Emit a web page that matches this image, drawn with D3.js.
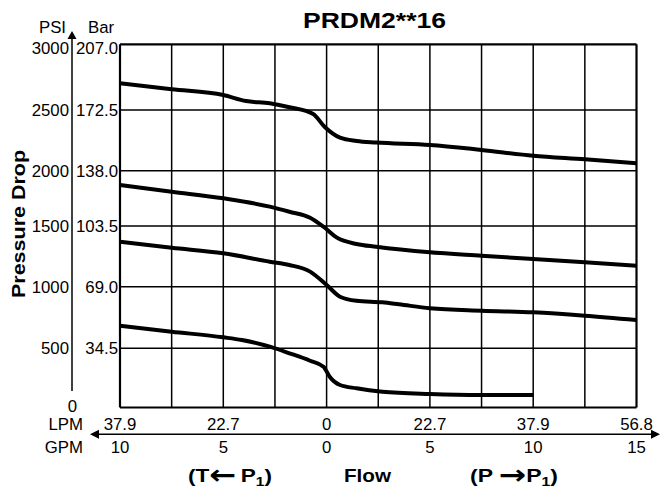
<!DOCTYPE html>
<html>
<head>
<meta charset="utf-8">
<script src="https://cdn.jsdelivr.net/npm/d3@7"></script>
<style>
  body { margin: 0; background: #fff; }
  text { font-family: 'Liberation Sans', Arial, Helvetica, sans-serif; fill: #000; }
  .arrow { font-family: 'DejaVu Sans', sans-serif; }
</style>
</head>
<body>
<div id="chart"></div>
<script>
// flow in GPM (negative = T <- P1 side), pressure drop in PSI
var flowTicks = [-10, -5, 0, 5, 10, 15]
var lpmLabels = ['37.9', '22.7', '0', '22.7', '37.9', '56.8']
var gpmLabels = ['10', '5', '0', '5', '10', '15']
var gridFlow = [-10, -7.5, -5, -2.5, 0, 2.5, 5, 7.5, 10, 12.5, 15]

var psiTicks = [0, 500, 1000, 1500, 2000, 2500, 3000]
var psiLabels = ['', '500', '1000', '1500', '2000', '2500', '3000']
var barLabels = ['', '34.5', '69.0', '103.5', '138.0', '172.5', '207.0']

var curve1 = [[-10, 2703], [-7.5, 2658], [-5, 2614], [-3.9, 2568], [-2.75, 2551], [-1.8, 2521], [-0.65, 2467], [-0.1, 2362], [0.65, 2272], [1.45, 2245], [2.4, 2232], [5, 2212], [7.5, 2171], [10, 2124], [12.5, 2094], [15, 2061]]
var curve2 = [[-10, 1871], [-7.5, 1810], [-5, 1750], [-2.75, 1675], [-1.8, 1629], [-0.8, 1575], [-0.15, 1494], [0.5, 1404], [1.45, 1352], [2.4, 1329], [5, 1283], [7.5, 1255], [10, 1228], [12.5, 1201], [15, 1173]]
var curve3 = [[-10, 1371], [-7.5, 1321], [-5, 1275], [-2.75, 1206], [-1.8, 1179], [-0.8, 1124], [0, 1014], [0.65, 919], [1.45, 886], [2.7, 873], [3.5, 857], [5, 825], [7.5, 805], [10, 792], [12.5, 765], [15, 730]]
var curve4 = [[-10, 683], [-7.5, 635], [-5, 589], [-4.1, 567], [-2.75, 513], [-1.8, 458], [-0.8, 395], [-0.15, 345], [0.15, 260], [0.65, 190], [1.45, 162], [2.7, 133], [5, 114], [7.5, 106], [10, 106]]

var curves = [curve1, curve2, curve3, curve4]

let width = 662
let height = 496
let tickSize = 16.8

let svg = d3
  .select('#chart')
  .append('svg')
  .attr('width', width)
  .attr('height', height)

var xScale = d3.scaleLinear().domain([-10, 15]).range([120, 636.5])

// the printed grid is not evenly spaced, so the scale follows each band
var yScale = d3
  .scaleLinear()
  .domain(psiTicks)
  .range([407.5, 348.3, 286.7, 226, 170.7, 110, 44.3])

// grid
svg
  .selectAll('.vgrid')
  .data(gridFlow)
  .enter()
  .append('line')
  .attr('class', 'vgrid')
  .attr('x1', (d) => xScale(d))
  .attr('x2', (d) => xScale(d))
  .attr('y1', yScale(0))
  .attr('y2', yScale(3000))
  .attr('stroke', '#000')
  .attr('stroke-width', (d) => (d === -10 || d === 15 ? 2.2 : 1.5))

svg
  .selectAll('.hgrid')
  .data(psiTicks)
  .enter()
  .append('line')
  .attr('class', 'hgrid')
  .attr('x1', xScale(-10))
  .attr('x2', xScale(15))
  .attr('y1', (d) => yScale(d))
  .attr('y2', (d) => yScale(d))
  .attr('stroke', '#000')
  .attr('stroke-width', (d) => (d === 0 || d === 3000 ? 2.2 : 1.5))

// curves
var line = d3
  .line()
  .x((d) => xScale(d[0]))
  .y((d) => yScale(d[1]))
  .curve(d3.curveMonotoneX)

svg
  .selectAll('.curve')
  .data(curves)
  .enter()
  .append('path')
  .attr('class', 'curve')
  .attr('d', line)
  .attr('fill', 'none')
  .attr('stroke', '#000')
  .attr('stroke-width', 4)
  .attr('stroke-linejoin', 'round')

// left axis labels
svg
  .selectAll('.psi-label')
  .data(psiTicks.slice(1))
  .enter()
  .append('text')
  .attr('class', 'psi-label')
  .text((d, i) => psiLabels[i + 1])
  .attr('x', 69)
  .attr('y', (d) => yScale(d) + (d === 3000 ? 4 : 0))
  .attr('dy', '0.36em')
  .attr('text-anchor', 'end')
  .attr('font-size', tickSize)

svg
  .selectAll('.bar-label')
  .data(psiTicks.slice(1))
  .enter()
  .append('text')
  .attr('class', 'bar-label')
  .text((d, i) => barLabels[i + 1])
  .attr('x', 118)
  .attr('y', (d) => yScale(d) + (d === 3000 ? 4 : 0))
  .attr('dy', '0.36em')
  .attr('text-anchor', 'end')
  .attr('font-size', tickSize)

svg.append('text').text('0').attr('x', 72.5).attr('y', 412).attr('text-anchor', 'middle').attr('font-size', tickSize)
svg.append('text').text('PSI').attr('x', 52.5).attr('y', 33).attr('text-anchor', 'middle').attr('font-size', tickSize)
svg.append('text').text('Bar').attr('x', 101).attr('y', 33).attr('text-anchor', 'middle').attr('font-size', tickSize)

// vertical arrow axis
svg.append('line').attr('x1', 72).attr('x2', 72).attr('y1', 37).attr('y2', 391).attr('stroke', '#000').attr('stroke-width', 1.5)
svg.append('path').attr('d', 'M72,31 L67.5,39 L76.5,39 Z').attr('fill', '#000')

svg
  .append('text')
  .text('Pressure Drop')
  .attr('transform', 'translate(25,224) rotate(-90)')
  .attr('text-anchor', 'middle')
  .attr('font-size', 18.5)
  .attr('font-weight', 'bold')
  .attr('textLength', 148)
  .attr('lengthAdjust', 'spacingAndGlyphs')

// title
svg
  .append('text')
  .text('PRDM2**16')
  .attr('x', 374.5)
  .attr('y', 28.3)
  .attr('text-anchor', 'middle')
  .attr('font-size', 21.5)
  .attr('font-weight', 'bold')
  .attr('textLength', 143)
  .attr('lengthAdjust', 'spacingAndGlyphs')

// bottom double arrow
svg.append('line').attr('x1', 96).attr('x2', 654).attr('y1', 434.3).attr('y2', 434.3).attr('stroke', '#000').attr('stroke-width', 1.5)
svg.append('path').attr('d', 'M90,434.3 L99,429.8 L99,438.8 Z').attr('fill', '#000')
svg.append('path').attr('d', 'M660,434.3 L651,429.8 L651,438.8 Z').attr('fill', '#000')

svg.append('text').text('LPM').attr('x', 83).attr('y', 430).attr('text-anchor', 'end').attr('font-size', tickSize)
svg.append('text').text('GPM').attr('x', 83).attr('y', 452.7).attr('text-anchor', 'end').attr('font-size', tickSize)

svg
  .selectAll('.lpm-label')
  .data(flowTicks)
  .enter()
  .append('text')
  .attr('class', 'lpm-label')
  .text((d, i) => lpmLabels[i])
  .attr('x', (d) => xScale(d))
  .attr('y', 430)
  .attr('text-anchor', 'middle')
  .attr('font-size', tickSize)

svg
  .selectAll('.gpm-label')
  .data(flowTicks)
  .enter()
  .append('text')
  .attr('class', 'gpm-label')
  .text((d, i) => gpmLabels[i])
  .attr('x', (d) => xScale(d))
  .attr('y', 452.7)
  .attr('text-anchor', 'middle')
  .attr('font-size', tickSize)

// direction captions
function caption(x, len, parts) {
  var t = svg
    .append('text')
    .attr('x', x)
    .attr('y', 481.7)
    .attr('font-size', 19)
    .attr('font-weight', 'bold')
    .attr('textLength', len)
    .attr('lengthAdjust', 'spacingAndGlyphs')
  parts.forEach((p) => {
    t.append('tspan')
      .text(p.s)
      .attr('class', p.arrow ? 'arrow' : null)
      .attr('font-size', p.sub ? 13 : p.arrow ? 27 : 19)
      .attr('dy', p.dy || 0)
  })
  return t
}

caption(188, 84, [{ s: '(T' }, { s: '\u2190', arrow: true, dy: 2.5 }, { s: '\u2009P', dy: -2.5 }, { s: '1', sub: true, dy: 4 }, { s: ')', dy: -4 }])
svg
  .append('text')
  .text('Flow')
  .attr('x', 344)
  .attr('y', 481.7)
  .attr('font-size', 19)
  .attr('font-weight', 'bold')
  .attr('textLength', 47)
  .attr('lengthAdjust', 'spacingAndGlyphs')
caption(470, 88, [{ s: '(P ' }, { s: '\u2192', arrow: true, dy: 2.5 }, { s: 'P', dy: -2.5 }, { s: '1', sub: true, dy: 4 }, { s: ')', dy: -4 }])
</script>
</body>
</html>
